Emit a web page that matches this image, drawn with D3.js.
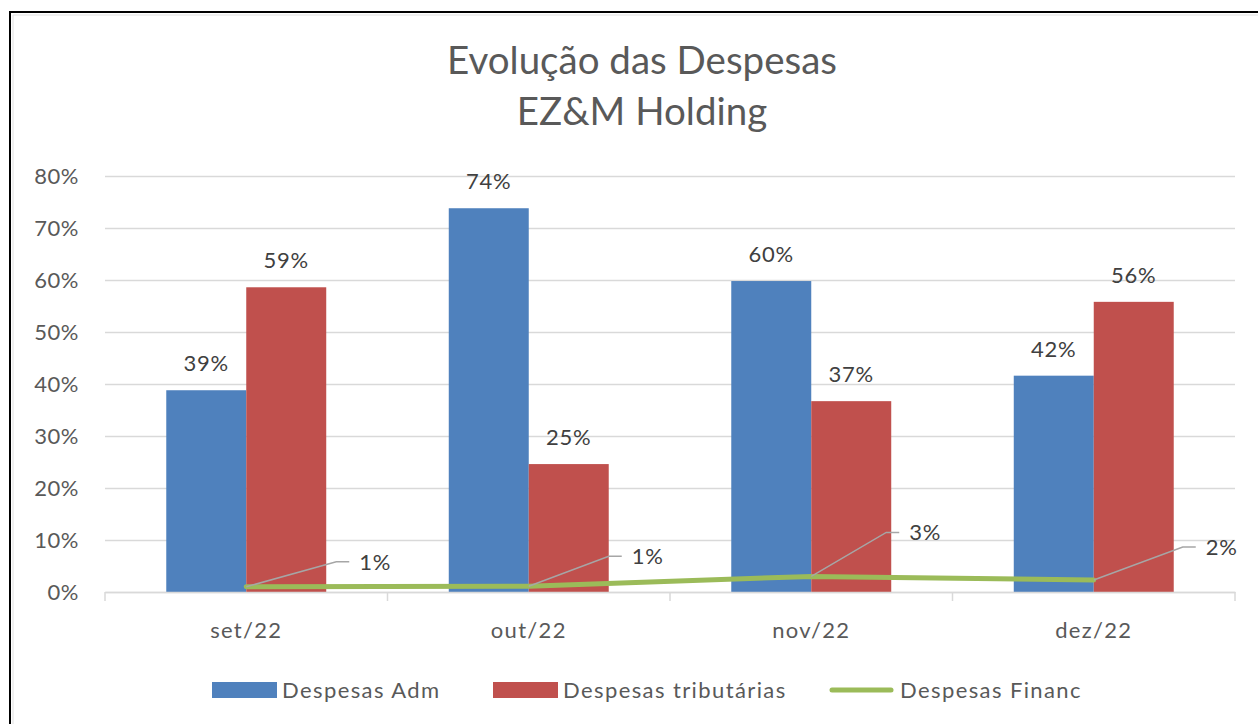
<!DOCTYPE html>
<html>
<head>
<meta charset="utf-8">
<script src="https://cdn.jsdelivr.net/npm/d3@7/dist/d3.min.js"></script>
<style>
  html, body { margin: 0; padding: 0; background: #fff; }
  svg { display: block; font-family: Lato, "Open Sans", sans-serif; }
</style>
</head>
<body>
<script>
const categories = ["set/22", "out/22", "nov/22", "dez/22"];
const barSeries = ["Despesas Adm", "Despesas tributárias"];
const lineSeries = "Despesas Financ";
const adm = [0.388, 0.738, 0.598, 0.416];
const trib = [0.586, 0.246, 0.367, 0.558];
const financ = [0.010, 0.011, 0.030, 0.023];
const yTicks = [0, 0.1, 0.2, 0.3, 0.4, 0.5, 0.6, 0.7, 0.8];
const titleLines = ["Evolução das Despesas", "EZ&M Holding"];

// where the line labels sit, relative to their point (leader line end)
const labelOffsets = [[90, -25], [80, -30], [75, -44], [89, -33]];

const colors = { "Despesas Adm": "#4f81bd", "Despesas tributárias": "#c0504d", "Despesas Financ": "#9bbb59" };
const textColor = "#595959";
const font = "Lato, 'Open Sans', sans-serif";

const width = 1258, height = 724;
const svg = d3.select("body").append("svg").attr("width", width).attr("height", height);

// chart frame
svg.append("path")
    .attr("d", `M10,${height} V12 H${width}`)
    .attr("fill", "none").attr("stroke", "#000").attr("stroke-width", 2);
svg.append("path")
    .attr("d", `M13,${height} V15 H${width}`)
    .attr("fill", "none").attr("stroke", "#e0e0e0").attr("stroke-width", 1);

// title
svg.append("text")
    .attr("text-anchor", "middle")
    .attr("fill", textColor).attr("font-size", 38.5)
    .selectAll("tspan").data(titleLines).join("tspan")
    .attr("x", 642).attr("y", (d, i) => 74 + i * 51)
    .text(d => d);

const x0 = d3.scaleBand().domain(categories).range([105, 1235]).padding(0);
const x1 = d3.scaleBand().domain(barSeries).range([0, x0.bandwidth()]).paddingInner(0).paddingOuter(0.766);
const y = d3.scaleLinear().domain([0, 0.8]).range([592, 176]);
const fmt = d3.format(".0%");

// gridlines + y labels
const yAxis = svg.append("g")
    .attr("transform", "translate(105,0)")
    .call(d3.axisLeft(y).tickValues(yTicks).tickFormat(fmt).tickSize(-1130).tickPadding(26));
yAxis.select(".domain").remove();
yAxis.selectAll(".tick line").attr("stroke", "#d9d9d9").attr("stroke-width", 1.3);
yAxis.selectAll(".tick text").attr("fill", textColor).attr("font-size", 22)
    .attr("font-family", font).attr("letter-spacing", 0.5);

// bars
const data = categories.map((c, i) => ({ cat: c, values: [adm[i], trib[i]] }));
const groups = svg.append("g").selectAll("g").data(data).join("g")
    .attr("transform", d => `translate(${x0(d.cat)},0)`);
groups.selectAll("rect")
    .data(d => d.values.map((v, k) => ({ key: barSeries[k], v })))
    .join("rect")
    .attr("x", d => x1(d.key))
    .attr("width", x1.bandwidth())
    .attr("y", d => y(d.v))
    .attr("height", d => y(0) - y(d.v))
    .attr("fill", d => colors[d.key]);
groups.selectAll("text.bl")
    .data(d => d.values.map((v, k) => ({ key: barSeries[k], v })))
    .join("text")
    .attr("class", "bl")
    .attr("x", d => x1(d.key) + x1.bandwidth() / 2)
    .attr("y", d => y(d.v) - 19)
    .attr("text-anchor", "middle")
    .attr("fill", "#404040").attr("font-size", 22).attr("letter-spacing", 0.8)
    .text(d => fmt(d.v));

// x axis
const xAxis = svg.append("g")
    .attr("transform", `translate(0,${y(0)})`)
    .call(d3.axisBottom(x0).tickSize(0).tickPadding(30));
xAxis.select(".domain").attr("stroke", "#d9d9d9").attr("stroke-width", 1.5);
xAxis.selectAll(".tick text").attr("fill", textColor).attr("font-size", 22)
    .attr("font-family", font).attr("letter-spacing", 1.3);
xAxis.selectAll("line.sep")
    .data(categories.concat([null]))
    .join("line").attr("class", "sep")
    .attr("x1", (d, i) => i < categories.length ? x0(d) : x0.range()[1])
    .attr("x2", (d, i) => i < categories.length ? x0(d) : x0.range()[1])
    .attr("y1", 0).attr("y2", 9)
    .attr("stroke", "#d9d9d9").attr("stroke-width", 1.5);

// line series
const pts = categories.map((c, i) => ({ cat: c, v: financ[i], off: labelOffsets[i] }));
const px = d => x0(d.cat) + x0.bandwidth() / 2;
svg.append("path")
    .datum(pts)
    .attr("d", d3.line().x(px).y(d => y(d.v)))
    .attr("fill", "none").attr("stroke", colors[lineSeries]).attr("stroke-width", 5)
    .attr("stroke-linecap", "round").attr("stroke-linejoin", "round");

// leader lines + labels
const lbl = svg.append("g").selectAll("g").data(pts).join("g");
lbl.append("path")
    .attr("d", d => {
        const sx = px(d), sy = y(d.v);
        const ex = sx + d.off[0], ey = sy + d.off[1];
        return `M${sx},${sy} L${ex},${ey} H${ex + 13}`;
    })
    .attr("fill", "none").attr("stroke", "#a6a6a6").attr("stroke-width", 1.5);
lbl.append("text")
    .attr("x", d => px(d) + d.off[0] + 23)
    .attr("y", d => y(d.v) + d.off[1] + 8)
    .attr("fill", "#404040").attr("font-size", 22).attr("letter-spacing", 0.8)
    .text(d => fmt(d.v));

// legend
const legendItems = [
    { name: barSeries[0], type: "bar", x: 212 },
    { name: barSeries[1], type: "bar", x: 493 },
    { name: lineSeries, type: "line", x: 830 }
];
const lg = svg.append("g").selectAll("g").data(legendItems).join("g")
    .attr("transform", d => `translate(${d.x},690)`);
lg.filter(d => d.type === "bar").append("rect")
    .attr("x", 0).attr("y", -8).attr("width", 65).attr("height", 16)
    .attr("fill", d => colors[d.name]);
lg.filter(d => d.type === "line").append("line")
    .attr("x1", 2).attr("x2", 61).attr("y1", 0).attr("y2", 0)
    .attr("stroke", d => colors[d.name]).attr("stroke-width", 5).attr("stroke-linecap", "round");
lg.append("text")
    .attr("x", 70).attr("y", 8)
    .attr("fill", textColor).attr("font-size", 22)
    .attr("letter-spacing", 1.4)
    .text(d => d.name);
</script>
</body>
</html>
